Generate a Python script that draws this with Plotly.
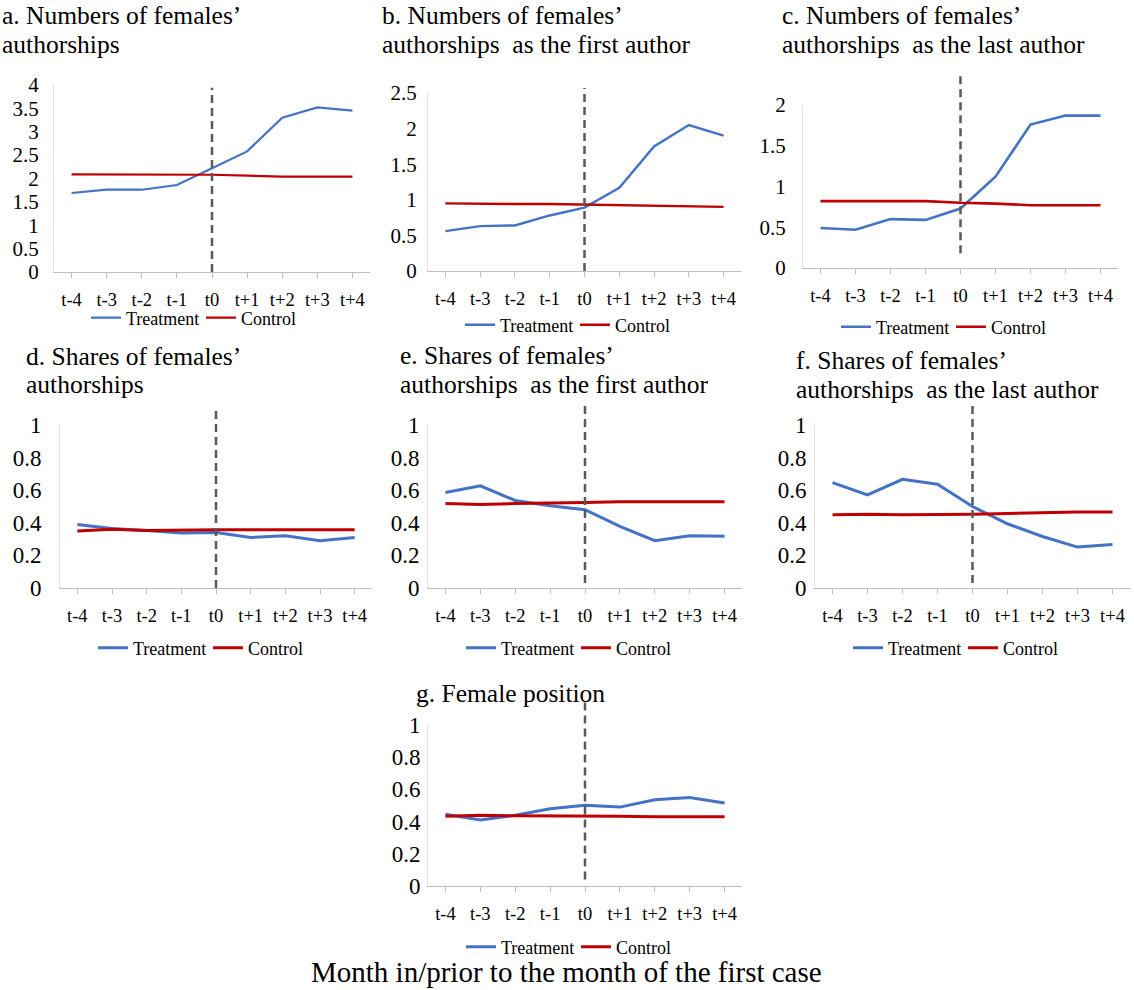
import plotly.graph_objects as go

# ---------------- data ----------------
months = ["t-4", "t-3", "t-2", "t-1", "t0", "t+1", "t+2", "t+3", "t+4"]
event_month = "t0"
series_names = ["Treatment", "Control"]

a_treat = [1.69, 1.76, 1.76, 1.86, 2.22, 2.58, 3.30, 3.52, 3.45]
a_ctrl = [2.09, 2.09, 2.09, 2.09, 2.08, 2.06, 2.04, 2.04, 2.04]
b_treat = [0.56, 0.63, 0.64, 0.78, 0.89, 1.17, 1.75, 2.05, 1.90]
b_ctrl = [0.95, 0.94, 0.94, 0.94, 0.93, 0.93, 0.91, 0.90, 0.90]
c_treat = [0.49, 0.47, 0.60, 0.59, 0.73, 1.12, 1.76, 1.87, 1.87]
c_ctrl = [0.82, 0.82, 0.82, 0.82, 0.80, 0.79, 0.77, 0.77, 0.77]
d_treat = [0.39, 0.365, 0.353, 0.337, 0.34, 0.31, 0.32, 0.29, 0.31]
d_ctrl = [0.35, 0.36, 0.353, 0.357, 0.357, 0.357, 0.357, 0.357, 0.357]
e_treat = [0.586, 0.627, 0.537, 0.504, 0.48, 0.378, 0.29, 0.32, 0.318]
e_ctrl = [0.518, 0.512, 0.518, 0.52, 0.524, 0.529, 0.53, 0.53, 0.529]
f_treat = [0.647, 0.571, 0.667, 0.637, 0.50, 0.394, 0.316, 0.251, 0.267]
f_ctrl = [0.449, 0.453, 0.449, 0.449, 0.453, 0.457, 0.463, 0.467, 0.467]
g_treat = [0.446, 0.41, 0.44, 0.48, 0.502, 0.49, 0.536, 0.55, 0.516]
g_ctrl = [0.434, 0.44, 0.436, 0.436, 0.436, 0.434, 0.43, 0.43, 0.43]

titles = {
    "a": ["a. Numbers of females\u2019", "authorships"],
    "b": ["b. Numbers of females\u2019", "authorships\u00a0 as the first author"],
    "c": ["c. Numbers of females\u2019", "authorships\u00a0 as the last author"],
    "d": ["d. Shares of females\u2019", "authorships"],
    "e": ["e. Shares of females\u2019", "authorships\u00a0 as the first author"],
    "f": ["f. Shares of females\u2019", "authorships\u00a0 as the last author"],
    "g": ["g. Female position"],
}
x_title = "Month in/prior to the month of the first case"

# ---------------- layout (pixels) ----------------
W, H = 1134, 990
FONT = "Liberation Serif, Times New Roman, serif"
BLUE = "#4472C4"
RED = "#C00000"
TITLE_SIZE = 25.5

panels = [
    dict(k="a", t=a_treat, c=a_ctrl, x=(54, 370), y=(272, 85), ymax=4, dtick=0.5,
         dash=(0, 3.94), lw=2.2, title_xy=(1, 16, 45), leg=(86, 318), yfs=21, ysd=10),
    dict(k="b", t=b_treat, c=b_ctrl, x=(428, 741), y=(271, 93), ymax=2.5, dtick=0.5,
         dash=(0, 2.57), lw=2.4, title_xy=(381, 16, 45), leg=(460, 325), yfs=21, ysd=6),
    dict(k="c", t=c_treat, c=c_ctrl, x=(803, 1118), y=(268, 105), ymax=2, dtick=0.5,
         dash=(0.18, 2.39), lw=2.6, title_xy=(781, 16, 45), leg=(836, 327), yfs=21, ysd=12),
    dict(k="d", t=d_treat, c=d_ctrl, x=(60, 372), y=(588, 425), ymax=1, dtick=0.2,
         dash=(0, 1.11), lw=3, title_xy=(25, 356, 385), leg=(93, 648), yfs=23, ysd=13),
    dict(k="e", t=e_treat, c=e_ctrl, x=(428, 742), y=(588, 425), ymax=1, dtick=0.2,
         dash=(0.03, 1.14), lw=3, title_xy=(399, 355, 384), leg=(461, 648), yfs=23, ysd=3),
    dict(k="f", t=f_treat, c=f_ctrl, x=(815, 1130), y=(588, 425), ymax=1, dtick=0.2,
         dash=(0.03, 1.14), lw=3, title_xy=(795, 360, 389), leg=(848, 648), yfs=23, ysd=3),
    dict(k="g", t=g_treat, c=g_ctrl, x=(428, 742), y=(886, 725), ymax=1, dtick=0.2,
         dash=(0.04, 1.155), lw=3, title_xy=(415, 693, None), leg=(461, 947), yfs=23, ysd=2),
]


def px_x(v):
    return v / W


def px_y(v):
    return 1 - v / H


fig = go.Figure()
layout = dict(
    width=W, height=H, margin=dict(l=0, r=0, t=0, b=0, autoexpand=False),
    paper_bgcolor="white", plot_bgcolor="white",
    font=dict(family=FONT, color="#000000", size=18),
    shapes=[], annotations=[],
)

for i, p in enumerate(panels):
    n = i + 1
    xa = "xaxis" if n == 1 else f"xaxis{n}"
    ya = "yaxis" if n == 1 else f"yaxis{n}"
    xr = "x" if n == 1 else f"x{n}"
    yr = "y" if n == 1 else f"y{n}"
    lg = "legend" if n == 1 else f"legend{n}"

    for name, vals, col in ((series_names[0], p["t"], BLUE), (series_names[1], p["c"], RED)):
        fig.add_trace(go.Scatter(
            x=months, y=vals, name=name, mode="lines",
            line=dict(color=col, width=p["lw"]),
            xaxis=xr, yaxis=yr, legend=lg, showlegend=True, hoverinfo="skip",
        ))

    layout[xa] = dict(
        domain=[px_x(p["x"][0]), px_x(p["x"][1])], anchor=yr,
        type="category", categoryorder="array", categoryarray=months,
        range=[-0.5, len(months) - 0.5],
        showline=True, linecolor="#bfbfbf", linewidth=1,
        ticks="outside", ticklen=5, tickcolor="#bfbfbf", tickwidth=1,
        showgrid=False, zeroline=False, fixedrange=True, automargin=False,
        tickfont=dict(family=FONT, size=18.5, color="#000000"),
        ticklabelstandoff=6,
    )
    layout[ya] = dict(
        domain=[px_y(p["y"][0]), px_y(p["y"][1])], anchor=xr,
        range=[0, p["ymax"]], tick0=0, dtick=p["dtick"],
        showline=True, linecolor="#e3e3e3", linewidth=1,
        ticks="", showgrid=False, zeroline=False, fixedrange=True, automargin=False,
        tickfont=dict(family=FONT, size=p["yfs"], color="#000000"),
        ticklabelstandoff=p["ysd"],
    )
    layout["shapes"].append(dict(
        type="line", xref=xr, yref=f"{yr} domain",
        x0=months.index(event_month), x1=months.index(event_month),
        y0=p["dash"][0] / p["ymax"], y1=p["dash"][1] / p["ymax"],
        line=dict(color="#595959", width=2.5, dash="8px,5px"),
    ))
    layout[lg] = dict(
        orientation="h", x=px_x(p["leg"][0]), xanchor="left",
        y=px_y(p["leg"][1]), yanchor="middle",
        font=dict(family=FONT, size=18, color="#000000"),
        bgcolor="rgba(0,0,0,0)", entrywidth=70, entrywidthmode="pixels",
        itemclick=False, itemdoubleclick=False,
    )
    tx, ty1, ty2 = p["title_xy"]
    lines = titles[p["k"]]
    for line_text, ty in zip(lines, (ty1, ty2)):
        layout["annotations"].append(dict(
            text=line_text, xref="paper", yref="paper",
            x=px_x(tx), y=px_y(ty), xanchor="left", yanchor="middle",
            showarrow=False, borderpad=0,
            font=dict(family=FONT, size=TITLE_SIZE, color="#000000"),
        ))

layout["annotations"].append(dict(
    text=x_title, xref="paper", yref="paper", x=px_x(566), y=px_y(972),
    xanchor="center", yanchor="middle", showarrow=False, borderpad=0,
    font=dict(family=FONT, size=29, color="#000000"),
))

fig.update_layout(**layout)
fig.write_html(
    "out.html",
    config={"displayModeBar": False},
    post_script="document.body.style.margin='0';document.body.style.overflow='hidden';",
)
